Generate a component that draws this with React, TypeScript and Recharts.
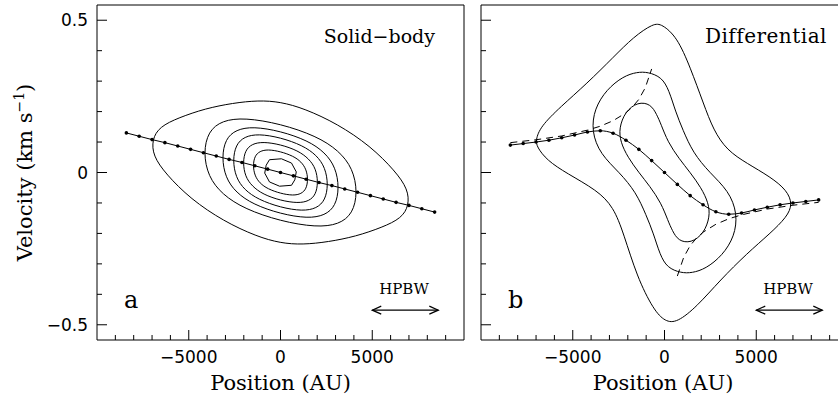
import { ScatterChart, Scatter, XAxis, YAxis, ReferenceLine } from "recharts";

// axis ticks
const xTicks = [-9000, -8000, -7000, -6000, -5000, -4000, -3000, -2000, -1000, 0, 1000, 2000, 3000, 4000, 5000, 6000, 7000, 8000, 9000];
const yTicks = [-0.5, -0.4, -0.3, -0.2, -0.1, 0, 0.1, 0.2, 0.3, 0.4, 0.5];
const xLabels: Record<string, string> = { "-5000": "−5000", "0": "0", "5000": "5000" };
const yLabels: Record<string, string> = { "-0.5": "−0.5", "0": "0", "0.5": "0.5" };

// velocity ridge (dotted lines)
const ridgeX = [-8400, -7700, -7000, -6300, -5600, -4900, -4200, -3500, -2800, -2100, -1400, -700, 0, 700, 1400, 2100, 2800, 3500, 4200, 4900, 5600, 6300, 7000, 7700, 8400];
const solidRidgeV = [0.13, 0.119, 0.108, 0.098, 0.087, 0.076, 0.065, 0.054, 0.043, 0.033, 0.022, 0.011, 0, -0.011, -0.022, -0.033, -0.043, -0.054, -0.065, -0.076, -0.087, -0.098, -0.108, -0.119, -0.13];
const diffRidgeV = [0.09, 0.095, 0.1, 0.106, 0.114, 0.123, 0.133, 0.137, 0.129, 0.106, 0.076, 0.039, 0, -0.039, -0.076, -0.106, -0.129, -0.137, -0.133, -0.123, -0.114, -0.106, -0.1, -0.095, -0.09];

// keplerian curves (dashed, panel b)
const kepLeftX = [-8400, -7000, -5600, -4200, -3500, -2800, -2100, -1750, -1400, -1050, -700];
const kepLeftV = [0.098, 0.1075, 0.12, 0.139, 0.152, 0.17, 0.196, 0.215, 0.24, 0.278, 0.34];
const kepRightX = [700, 1050, 1400, 1750, 2100, 2800, 3500, 4200, 5600, 7000, 8400];
const kepRightV = [-0.34, -0.278, -0.24, -0.215, -0.196, -0.17, -0.152, -0.139, -0.12, -0.1075, -0.098];

// contours, panel a (solid-body)
const solidC1 = [[-7000, 0.108], [-6600, 0.15], [-5550, 0.18], [-4100, 0.21], [-2600, 0.228], [-1200, 0.237], [0, 0.232], [1300, 0.21], [3100, 0.16], [4900, 0.087], [6250, 0.005], [6950, -0.055], [7000, -0.108], [6600, -0.15], [5550, -0.18], [4100, -0.21], [2600, -0.228], [1200, -0.237], [0, -0.232], [-1300, -0.21], [-3100, -0.16], [-4900, -0.087], [-6250, -0.005], [-6950, 0.055]];
const solidC2 = [[4200, -0.065], [3944, 0.013], [3184, 0.072], [1949, 0.12], [0, 0.16], [-1949, 0.18], [-3184, 0.171], [-3944, 0.135], [-4200, 0.065], [-3944, -0.013], [-3184, -0.072], [-1949, -0.12], [0, -0.16], [1949, -0.18], [3184, -0.171], [3944, -0.135]];
const solidC3 = [[3200, -0.05], [3005, 0.017], [2426, 0.066], [1485, 0.105], [0, 0.136], [-1485, 0.151], [-2426, 0.141], [-3005, 0.11], [-3200, 0.05], [-3005, -0.017], [-2426, -0.066], [-1485, -0.105], [0, -0.136], [1485, -0.151], [2426, -0.141], [3005, -0.11]];
const solidC4 = [[2600, -0.04], [2441, 0.016], [1971, 0.057], [1206, 0.089], [0, 0.115], [-1206, 0.127], [-1971, 0.118], [-2441, 0.091], [-2600, 0.04], [-2441, -0.016], [-1971, -0.057], [-1206, -0.089], [0, -0.115], [1206, -0.127], [1971, -0.118], [2441, -0.091]];
const solidC5 = [[2050, -0.032], [1925, 0.013], [1554, 0.045], [951, 0.072], [0, 0.092], [-951, 0.101], [-1554, 0.094], [-1925, 0.073], [-2050, 0.032], [-1925, -0.013], [-1554, -0.045], [-951, -0.072], [0, -0.092], [951, -0.101], [1554, -0.094], [1925, -0.073]];
const solidC6 = [[1500, -0.023], [1409, 0.01], [1137, 0.035], [696, 0.054], [0, 0.069], [-696, 0.076], [-1137, 0.07], [-1409, 0.054], [-1500, 0.023], [-1409, -0.01], [-1137, -0.035], [-696, -0.054], [0, -0.069], [696, -0.076], [1137, -0.07], [1409, -0.054]];
const solidC7 = [[-600, 0.042], [50, 0.045], [600, 0.031], [860, 0.002], [780, -0.024], [600, -0.042], [-50, -0.045], [-600, -0.031], [-860, -0.002], [-780, 0.024]];

// contours, panel b (differential)
const diffC1 = [[-600, 0.49], [-140, 0.487], [680, 0.445], [1400, 0.346], [2125, 0.226], [2670, 0.139], [3400, 0.073], [4490, 0.03], [5760, -0.014], [6670, -0.058], [6980, -0.104], [6670, -0.146], [5760, -0.2], [4490, -0.266], [3040, -0.353], [1770, -0.44], [680, -0.493], [40, -0.49], [-600, -0.451], [-1500, -0.342], [-2230, -0.2], [-2780, -0.113], [-3680, -0.058], [-5320, -0.003], [-6410, 0.04], [-6950, 0.084], [-7020, 0.106], [-6770, 0.15], [-5680, 0.215], [-4230, 0.292], [-2780, 0.379], [-1690, 0.445]];
const diffC2 = [[-3980, 0.135], [-3820, 0.21], [-3150, 0.273], [-2250, 0.316], [-1500, 0.33], [-900, 0.33], [-150, 0.313], [250, 0.27], [600, 0.2], [1000, 0.14], [1550, 0.065], [2450, 0], [3500, -0.06], [3980, -0.135], [3820, -0.21], [3150, -0.273], [2250, -0.316], [1500, -0.33], [900, -0.33], [150, -0.313], [-250, -0.27], [-600, -0.2], [-1000, -0.14], [-1550, -0.065], [-2450, 0], [-3500, 0.06]];
const diffC3 = [[-750, 0.225], [-420, 0.19], [-200, 0.16], [180, 0.1], [800, 0.045], [1400, 0], [2000, -0.05], [2400, -0.1], [2480, -0.145], [2150, -0.2], [1450, -0.232], [750, -0.225], [420, -0.19], [200, -0.16], [-180, -0.1], [-800, -0.045], [-1400, 0], [-2000, 0.05], [-2400, 0.1], [-2480, 0.145], [-2150, 0.2], [-1450, 0.232]];

// beam size arrow (HPBW)
const hpbwArrow = [{ x: 5000, y: -0.452, dir: "l" }, { x: 8600, y: -0.452, dir: "r" }];

const toPts = (arr: number[][]) => arr.map(([x, y]) => ({ x, y }));
const zipPts = (xs: number[], vs: number[]) => xs.map((x, i) => ({ x, y: vs[i] }));

const TICK_FONT = "'DejaVu Sans', sans-serif";
const SERIF = "'DejaVu Serif', serif";
const BLACK = "#000";

function BottomTick(props: any) {
  const { x, y, payload } = props;
  const label = xLabels[String(payload.value)];
  return (
    <g>
      <line x1={x} x2={x} y1={y} y2={y - (label ? 10 : 5)} stroke={BLACK} />
      {label && (
        <text x={x} y={y + 23} textAnchor="middle" fontFamily={TICK_FONT} fontSize={17} fill={BLACK}>
          {label}
        </text>
      )}
    </g>
  );
}

function TopTick(props: any) {
  const { x, y, payload } = props;
  const major = xLabels[String(payload.value)];
  return <line x1={x} x2={x} y1={y} y2={y + (major ? 10 : 5)} stroke={BLACK} />;
}

function LeftTick(props: any) {
  const { x, y, payload, showLabels } = props;
  const label = yLabels[String(payload.value)];
  return (
    <g>
      <line x1={x} x2={x + (label ? 10 : 5)} y1={y} y2={y} stroke={BLACK} />
      {showLabels && label && (
        <text x={x - 9} y={y + 6} textAnchor="end" fontFamily={TICK_FONT} fontSize={17} fill={BLACK}>
          {label}
        </text>
      )}
    </g>
  );
}

function RightTick(props: any) {
  const { x, y, payload } = props;
  const major = yLabels[String(payload.value)];
  return <line x1={x} x2={x - (major ? 10 : 5)} y1={y} y2={y} stroke={BLACK} />;
}

const noDot = () => <g />;
const ridgeDot = (p: any) => <circle cx={p.cx} cy={p.cy} r={1.8} fill={BLACK} />;
const arrowHead = (p: any) => {
  const s = p.payload.dir === "l" ? 1 : -1;
  return (
    <polyline
      points={`${p.cx + s * 9},${p.cy - 4} ${p.cx},${p.cy} ${p.cx + s * 9},${p.cy + 4}`}
      fill="none"
      stroke={BLACK}
      strokeWidth={1.2}
    />
  );
};

const lineStyle = { stroke: BLACK, strokeWidth: 1 };
const dashStyle = { stroke: BLACK, strokeWidth: 1, strokeDasharray: "7 5" };

function axes(showLabels: boolean, leftWidth: number) {
  return [
    <XAxis
      key="xb"
      type="number"
      dataKey="x"
      domain={[-10000, 10000]}
      allowDataOverflow
      ticks={xTicks}
      interval={0}
      height={61}
      tickSize={0}
      tickMargin={0}
      tickLine={false}
      axisLine={{ stroke: BLACK }}
      tick={(p: any) => <BottomTick {...p} />}
    />,
    <XAxis
      key="xt"
      xAxisId="top"
      orientation="top"
      type="number"
      domain={[-10000, 10000]}
      allowDataOverflow
      ticks={xTicks}
      interval={0}
      height={0}
      tickSize={0}
      tickMargin={0}
      tickLine={false}
      axisLine={false}
      tick={(p: any) => <TopTick {...p} />}
    />,
    <YAxis
      key="yl"
      type="number"
      dataKey="y"
      domain={[-0.55, 0.55]}
      allowDataOverflow
      ticks={yTicks}
      interval={0}
      width={leftWidth}
      tickSize={0}
      tickMargin={0}
      tickLine={false}
      axisLine={{ stroke: BLACK }}
      tick={(p: any) => <LeftTick {...p} showLabels={showLabels} />}
    />,
    <YAxis
      key="yr"
      yAxisId="right"
      orientation="right"
      type="number"
      domain={[-0.55, 0.55]}
      allowDataOverflow
      ticks={yTicks}
      interval={0}
      width={0}
      tickSize={0}
      tickMargin={0}
      tickLine={false}
      axisLine={false}
      tick={(p: any) => <RightTick {...p} />}
    />,
    <ReferenceLine key="ft" y={0.55} stroke={BLACK} strokeWidth={1} />,
    <ReferenceLine key="fr" x={10000} stroke={BLACK} strokeWidth={1} />,
  ];
}

function contour(key: string, pts: number[][], joint: any = "basisClosed") {
  return (
    <Scatter
      key={key}
      data={toPts(pts)}
      line={lineStyle}
      lineJointType={joint}
      shape={noDot}
      isAnimationActive={false}
    />
  );
}

export default function App() {
  return (
    <div style={{ position: "absolute", left: 0, top: 0, width: 838, height: 401, overflow: "hidden", background: "#fff" }}>
      <div style={{ position: "absolute", left: 0, top: 0 }}>
        <ScatterChart width={470} height={401} margin={{ top: 5, right: 6, bottom: 0, left: 0 }}>
          {axes(true, 97)}
          {[solidC1, solidC2, solidC3, solidC4, solidC5, solidC6].map((c, i) => contour(`sa${i}`, c))}
          {contour("sa7", solidC7, "linearClosed")}
          <Scatter data={zipPts(ridgeX, solidRidgeV)} line={lineStyle} lineJointType="linear" shape={ridgeDot} isAnimationActive={false} />
          <Scatter data={hpbwArrow} line={{ stroke: BLACK, strokeWidth: 1.2 }} lineJointType="linear" shape={arrowHead} isAnimationActive={false} />
        </ScatterChart>
      </div>
      <div style={{ position: "absolute", left: 470, top: 0 }}>
        <ScatterChart width={384} height={401} margin={{ top: 5, right: 6, bottom: 0, left: 0 }}>
          {axes(false, 11)}
          {[diffC1, diffC2, diffC3].map((c, i) => contour(`db${i}`, c))}
          <Scatter data={zipPts(kepLeftX, kepLeftV)} line={dashStyle} lineJointType="linear" shape={noDot} isAnimationActive={false} />
          <Scatter data={zipPts(kepRightX, kepRightV)} line={dashStyle} lineJointType="linear" shape={noDot} isAnimationActive={false} />
          <Scatter data={zipPts(ridgeX, diffRidgeV)} line={lineStyle} lineJointType="monotoneX" shape={ridgeDot} isAnimationActive={false} />
          <Scatter data={hpbwArrow} line={{ stroke: BLACK, strokeWidth: 1.2 }} lineJointType="linear" shape={arrowHead} isAnimationActive={false} />
        </ScatterChart>
      </div>
      <svg width={838} height={401} style={{ position: "absolute", left: 0, top: 0, pointerEvents: "none" }}>
        <g fontFamily={SERIF} fill={BLACK}>
          <text transform="translate(32,172.5) rotate(-90)" textAnchor="middle" fontSize={21}>
            Velocity (km s<tspan dy={-8} fontSize={14}>−1</tspan><tspan dy={8}>)</tspan>
          </text>
          <text x={280.5} y={390} textAnchor="middle" fontSize={21}>Position (AU)</text>
          <text x={663} y={390} textAnchor="middle" fontSize={21}>Position (AU)</text>
          <text x={435} y={43} textAnchor="end" fontSize={19}>Solid−body</text>
          <text x={827} y={43} textAnchor="end" fontSize={20} letterSpacing={0.5}>Differential</text>
          <text x={124} y={308} fontSize={24}>a</text>
          <text x={508} y={308} fontSize={24}>b</text>
          <text x={404} y={294} textAnchor="middle" fontSize={15}>HPBW</text>
          <text x={788} y={294} textAnchor="middle" fontSize={15}>HPBW</text>
        </g>
      </svg>
    </div>
  );
}
